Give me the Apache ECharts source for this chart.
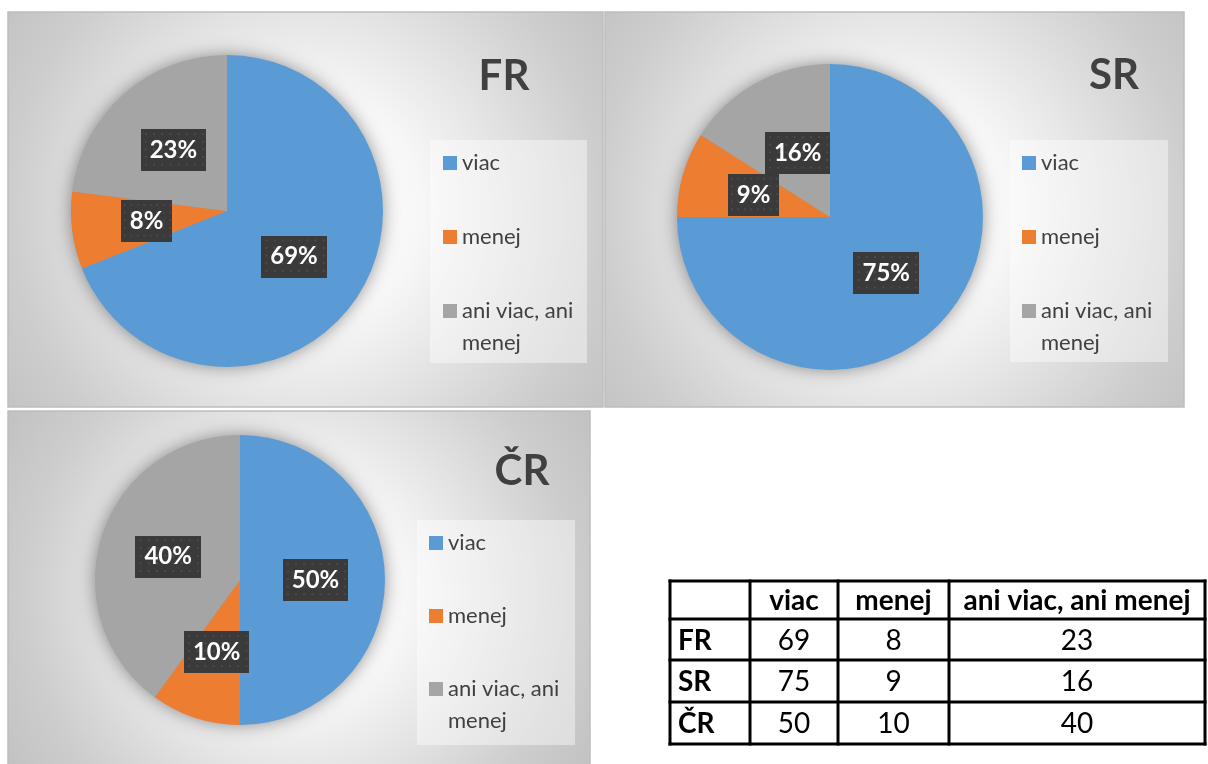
<!DOCTYPE html>
<html>
<head>
<meta charset="utf-8">
<script src="https://cdn.jsdelivr.net/npm/echarts@6/dist/echarts.min.js"></script>
<style>
  html, body { margin: 0; padding: 0; background: #ffffff; }
  #chart { width: 1208px; height: 764px; }
</style>
</head>
<body>
<div id="chart"></div>
<script>
// Survey answers per country (percent)
const regions = ['FR', 'SR', 'ČR'];
const answers = ['viac', 'menej', 'ani viac, ani menej'];
const viac = [69, 75, 50];
const menej = [8, 9, 10];
const aniViacAniMenej = [23, 16, 40];
const tableHeader = ['', 'viac', 'menej', 'ani viac, ani menej'];

const valuesByAnswer = [viac, menej, aniViacAniMenej];
const colors = ['#5B9BD5', '#ED7D31', '#A5A5A5'];
const FONT = 'Lato, "Open Sans", sans-serif';
const TEXT_DARK = '#404040';

// Frame, pie and legend placement of each country panel
const panels = [
  { x: 8, y: 12, w: 595, h: 395, center: [227, 211], r: 156, titleX: 504, titleY: 76,
    box: [430, 140, 157, 223], legendX: 443, legendY: 163, step: 74 },
  { x: 605, y: 12, w: 579, h: 395, center: [830, 217], r: 153, titleX: 1114, titleY: 75,
    box: [1010, 140, 158, 222], legendX: 1022, legendY: 163, step: 74 },
  { x: 8, y: 411, w: 582, h: 365, center: [240, 580], r: 145, titleX: 522, titleY: 471,
    box: [417, 520, 158, 225], legendX: 429, legendY: 543, step: 73 }
];

// Dark dotted fill used behind the percentage labels
function dottedFill() {
  const c = document.createElement('canvas');
  c.width = 64; c.height = 44;
  const g = c.getContext('2d');
  g.fillStyle = '#3a3a3a';
  g.fillRect(0, 0, 64, 44);
  g.fillStyle = '#4b4b4b';
  for (let y = 4; y < 44; y += 8) {
    for (let x = 4; x < 64; x += 8) g.fillRect(x, y, 2, 2);
  }
  return c;
}
const labelFill = dottedFill();

const chart = echarts.init(document.getElementById('chart'), null, { renderer: 'canvas' });

const graphics = [];
const titles = [];
const legends = [];
const series = [];

const legendText = { fontSize: 22, lineHeight: 32, color: TEXT_DARK, fontFamily: FONT };

panels.forEach((p, i) => {
  // panel background with a soft radial light
  graphics.push({
    type: 'rect', z: -10, silent: true,
    shape: { x: p.x, y: p.y, width: p.w, height: p.h },
    style: {
      fill: {
        type: 'radial', x: 0.5, y: 0.5, r: 0.91,
        colorStops: [
          { offset: 0, color: '#ffffff' },
          { offset: 0.32, color: '#f7f7f7' },
          { offset: 0.55, color: '#e4e4e4' },
          { offset: 0.82, color: '#cdcdcd' },
          { offset: 1, color: '#c3c3c3' }
        ]
      },
      stroke: '#bdbdbd', lineWidth: 1.5
    }
  });
  // legend panel
  graphics.push({
    type: 'rect', z: -9, silent: true,
    shape: { x: p.box[0], y: p.box[1], width: p.box[2], height: p.box[3] },
    style: { fill: 'rgba(255,255,255,0.42)' }
  });

  titles.push({
    text: regions[i], left: p.titleX, top: p.titleY - 21, padding: 0, textAlign: 'center',
    textStyle: { fontFamily: FONT, fontWeight: 'bold', fontSize: 42, lineHeight: 42, color: TEXT_DARK }
  });

  legends.push({
    orient: 'vertical', left: p.legendX, top: p.legendY - 16, padding: 0,
    itemGap: p.step - 32, icon: 'rect', itemWidth: 14, itemHeight: 14,
    selectedMode: false, data: answers.slice(0, 2), textStyle: legendText
  });
  // the long answer wraps; a leading blank line keeps its first line level with the marker
  legends.push({
    orient: 'vertical', left: p.legendX, top: p.legendY + 2 * p.step - 48, padding: 0,
    icon: 'rect', itemWidth: 14, itemHeight: 14, selectedMode: false,
    data: answers.slice(2),
    formatter: (name) => '\n' + name.replace('ani viac, ani ', 'ani viac, ani\n'),
    textStyle: legendText
  });

  // soft halo under the pie
  series.push({
    type: 'pie', name: 'halo' + i, center: p.center, radius: p.r - 1, silent: true, z: 1,
    startAngle: 90, tooltip: { show: false }, emphasis: { disabled: true },
    label: { show: false }, labelLine: { show: false },
    itemStyle: { color: '#9a9a9a', shadowBlur: 18, shadowColor: 'rgba(0,0,0,0.45)' },
    data: [{ value: 1, name: '' }]
  });

  series.push({
    type: 'pie', name: regions[i], center: p.center, radius: p.r, z: 2,
    startAngle: 90, clockwise: true, avoidLabelOverlap: false,
    emphasis: { disabled: true },
    itemStyle: { borderWidth: 0 },
    labelLine: { show: false },
    label: {
      show: true, position: 'inside', formatter: '{c}%',
      fontFamily: FONT, fontWeight: 'bold', fontSize: 24, lineHeight: 26, color: '#ffffff',
      backgroundColor: { image: labelFill }, padding: [8, 9],
      shadowColor: 'rgba(0,0,0,0.55)', shadowBlur: 6, shadowOffsetX: 3, shadowOffsetY: 3
    },
    labelLayout: i === 1 ? (params) => (params.dataIndex === 2 ? { dx: 6, dy: 6 } : {}) : undefined,
    data: answers.map((a, j) => ({ name: a, value: valuesByAnswer[j][i], itemStyle: { color: colors[j] } }))
  });
});

// Summary table
const colX = [670, 750, 838, 949, 1205];
const rowY = [581, 619, 660, 702, 744];
colX.forEach((x) => graphics.push({
  type: 'line', silent: true, shape: { x1: x, y1: rowY[0] - 1.5, x2: x, y2: rowY[rowY.length - 1] + 1.5 },
  style: { stroke: '#000000', lineWidth: 3 }
}));
rowY.forEach((y) => graphics.push({
  type: 'line', silent: true, shape: { x1: colX[0] - 1.5, y1: y, x2: colX[colX.length - 1] + 1.5, y2: y },
  style: { stroke: '#000000', lineWidth: 3 }
}));
const cellText = (text, col, row, bold) => ({
  type: 'text', silent: true,
  x: col === 0 ? colX[0] + 8 : (colX[col] + colX[col + 1]) / 2,
  y: (rowY[row] + rowY[row + 1]) / 2 + 1,
  style: {
    text: String(text), fill: '#000000', fontFamily: FONT, fontSize: 28,
    fontWeight: bold ? 'bold' : 'normal',
    align: col === 0 ? 'left' : 'center', verticalAlign: 'middle'
  }
});
tableHeader.forEach((h, c) => { if (h) graphics.push(cellText(h, c, 0, true)); });
regions.forEach((name, r) => {
  graphics.push(cellText(name, 0, r + 1, true));
  valuesByAnswer.forEach((vals, c) => graphics.push(cellText(vals[r], c + 1, r + 1, false)));
});

chart.setOption({
  animation: false,
  color: colors,
  title: titles,
  legend: legends,
  series: series,
  graphic: { elements: graphics }
});
</script>
</body>
</html>
